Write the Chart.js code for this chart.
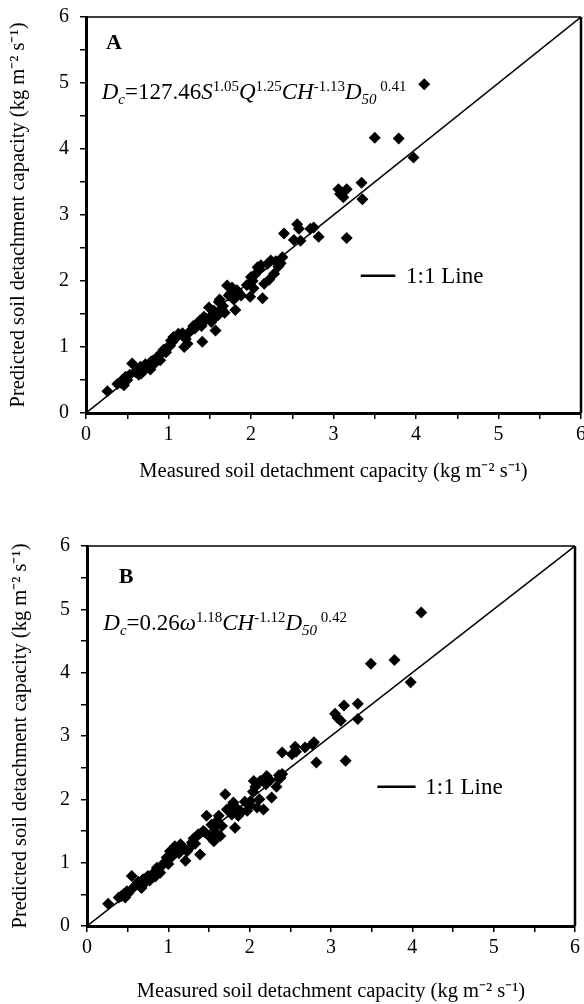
<!DOCTYPE html>
<html lang="en">
<head>
<meta charset="UTF-8">
<script src="https://cdn.jsdelivr.net/npm/chart.js"></script>
<title>Measured vs predicted soil detachment capacity</title>
<style>
  body { margin: 0; background: #fff; }
  canvas { display: block; }
</style>
</head>
<body>
<canvas id="chartA" width="584" height="500"></canvas>
<canvas id="chartB" width="584" height="504"></canvas>
<script>
// --- data ---
const measuredA = [0.26,0.38,0.44,0.48,0.56,0.62,0.67,0.73,0.79,0.85,0.91,0.99,1.03,1.06,1.19,1.23,1.17,1.27,1.35,1.41,
  1.43,1.49,1.57,1.57,1.61,1.65,1.71,1.75,1.81,1.83,2.00,1.99,2.03,2.08,2.14,2.16,2.24,2.28,2.36,
  4.10,3.50,3.79,3.97,3.34,3.06,3.16,3.08,3.12,3.35,3.16,2.82,2.76,2.56,2.58,2.40,2.52,2.60,2.72,2.38,
  0.42,0.46,0.50,0.53,0.60,0.64,0.66,0.70,0.72,0.76,0.78,0.82,0.84,0.88,0.90,0.94,0.97,1.02,1.05,1.09,
  1.12,1.21,1.25,1.30,1.32,1.38,1.40,1.46,1.50,1.52,1.55,1.60,1.62,1.66,1.68,1.73,1.77,1.79,1.85,1.88,
  1.95,2.02,2.05,2.10,2.12,2.20,2.22,2.30,2.33];
const predictedA = [0.33,0.44,0.50,0.55,0.75,0.65,0.60,0.70,0.78,0.83,0.91,1.00,1.10,1.15,1.00,1.05,1.21,1.25,1.36,1.08,
  1.46,1.60,1.46,1.25,1.68,1.56,1.93,1.81,1.56,1.86,2.06,1.76,1.89,2.21,1.74,1.96,2.31,2.11,2.27,
  4.98,4.17,4.16,3.87,3.49,3.39,3.39,3.32,3.27,3.24,2.65,2.67,2.81,2.86,2.79,2.72,2.62,2.61,2.79,2.36,
  0.46,0.42,0.50,0.58,0.62,0.58,0.70,0.64,0.74,0.72,0.66,0.80,0.76,0.86,0.80,0.96,0.92,1.02,1.08,1.14,
  1.20,1.12,1.22,1.32,1.28,1.40,1.32,1.42,1.45,1.38,1.55,1.48,1.72,1.62,1.52,1.78,1.90,1.72,1.82,1.78,
  1.94,2.00,2.10,2.18,2.24,2.26,2.02,2.30,2.22];

const measuredB = [0.26,0.39,0.45,0.49,0.55,0.61,0.67,0.69,0.75,0.82,0.86,0.92,0.98,1.02,1.08,1.15,1.21,1.23,1.29,1.35,
  1.39,1.43,1.47,1.56,1.58,1.62,1.64,1.70,1.76,1.80,1.82,1.86,1.97,2.01,2.05,2.09,2.17,2.21,2.27,2.36,2.40,
  4.11,3.49,3.78,3.98,3.16,3.33,3.05,3.08,3.12,3.33,3.18,2.82,2.77,2.79,2.56,2.57,2.40,2.52,2.68,2.13,2.38,
  0.42,0.47,0.51,0.58,0.63,0.65,0.71,0.73,0.77,0.80,0.84,0.88,0.90,0.95,1.00,1.05,1.10,1.13,1.18,1.25,
  1.31,1.33,1.37,1.45,1.50,1.53,1.58,1.60,1.66,1.72,1.78,1.84,1.90,1.94,2.00,2.04,2.07,2.12,2.20,2.25,
  2.33,2.36];
const predictedB = [0.35,0.45,0.50,0.55,0.79,0.66,0.60,0.74,0.79,0.84,0.92,0.95,1.08,1.18,1.26,1.29,1.03,1.18,1.32,1.42,
  1.13,1.50,1.74,1.34,1.58,1.74,1.42,2.08,1.87,1.95,1.55,1.74,1.82,1.97,2.29,1.87,1.84,2.37,2.03,2.32,2.40,
  4.95,4.14,4.20,3.85,3.48,3.51,3.35,3.29,3.24,3.27,2.61,2.58,2.87,2.90,2.83,2.75,2.74,2.71,2.82,2.29,2.34,
  0.47,0.45,0.52,0.62,0.70,0.64,0.68,0.76,0.72,0.80,0.78,0.88,0.84,1.00,0.98,1.10,1.20,1.15,1.24,1.22,
  1.38,1.30,1.45,1.48,1.42,1.60,1.48,1.66,1.58,1.84,1.76,1.86,1.80,1.96,1.90,2.12,2.20,2.00,2.24,2.30,
  2.20,2.38];

const lineX = [0, 6];   // 1:1 line ends
const lineY = [0, 6];
const axisMin = 0;
const axisMax = 6;

const xTitle = 'Measured soil detachment capacity (kg m\u207B\u00B2 s\u207B\u00B9)';
const yTitle = 'Predicted soil detachment capacity (kg m\u207B\u00B2 s\u207B\u00B9)';
const legendText = '1:1 Line';

// equation pieces: [text, italic?, position]
const equationA = [['D',1,'base'],['c',1,'sub'],['=127.46',0,'base'],['S',1,'base'],['1.05',0,'sup'],
  ['Q',1,'base'],['1.25',0,'sup'],['CH',1,'base'],['-1.13',0,'sup'],['D',1,'base'],['50',1,'sub'],[' 0.41',0,'sup']];
const equationB = [['D',1,'base'],['c',1,'sub'],['=0.26',0,'base'],['\u03C9',1,'base'],['1.18',0,'sup'],
  ['CH',1,'base'],['-1.12',0,'sup'],['D',1,'base'],['50',1,'sub'],[' 0.42',0,'sup']];

const FONT = '"Liberation Serif", "Times New Roman", serif';

// frame, panel letter, equation and legend
const extras = {
  id: 'extras',
  afterDatasetsDraw(chart, args, o) {
    const {ctx, chartArea: a, scales: {x, y}} = chart;
    ctx.save();
    ctx.strokeStyle = '#000';
    ctx.lineWidth = 1.5;
    ctx.beginPath(); ctx.moveTo(a.left, a.top); ctx.lineTo(a.right, a.top); ctx.stroke();
    ctx.lineWidth = 2.5;
    ctx.beginPath(); ctx.moveTo(a.right, a.top); ctx.lineTo(a.right, a.bottom); ctx.stroke();

    ctx.fillStyle = '#000';
    ctx.font = 'bold 22px ' + FONT;
    ctx.textAlign = 'center';
    ctx.textBaseline = 'middle';
    ctx.fillText(o.letter, x.getPixelForValue(o.letterAt[0]), y.getPixelForValue(o.letterAt[1]));

    ctx.textAlign = 'left';
    ctx.textBaseline = 'alphabetic';
    let px = x.getPixelForValue(o.eqAt[0]);
    const base = y.getPixelForValue(o.eqAt[1]) + 7;
    o.equation.forEach(([t, it, pos]) => {
      const size = pos === 'base' ? 23 : 15;
      ctx.font = (it ? 'italic ' : '') + size + 'px ' + FONT;
      const dy = pos === 'sup' ? -8 : pos === 'sub' ? 5 : 0;
      ctx.fillText(t, px, base + dy);
      px += ctx.measureText(t).width;
    });

    const ly = y.getPixelForValue(o.legendAt[2]);
    ctx.lineWidth = 2.5;
    ctx.beginPath();
    ctx.moveTo(x.getPixelForValue(o.legendAt[0]), ly);
    ctx.lineTo(x.getPixelForValue(o.legendAt[1]), ly);
    ctx.stroke();
    ctx.font = '23px ' + FONT;
    ctx.textBaseline = 'middle';
    ctx.fillText(legendText, x.getPixelForValue(o.legendAt[3]), ly + 1);
    ctx.restore();
  }
};

function makeChart(id, xs, ys, cfg) {
  const points = xs.map((v, i) => ({x: v, y: ys[i]}));
  const line = lineX.map((v, i) => ({x: v, y: lineY[i]}));
  const tickFont = {family: FONT, size: 20};
  const tickCb = v => Number.isInteger(v) ? v : '';
  const grid = {drawOnChartArea: false, drawTicks: true, tickLength: 6, color: '#000', lineWidth: 1.5};
  return new Chart(document.getElementById(id), {
    type: 'scatter',
    data: {
      datasets: [{
        data: points,
        pointStyle: 'rectRot',
        pointRadius: 6,
        backgroundColor: '#000',
        borderWidth: 0
      }, {
        type: 'line',
        data: line,
        borderColor: '#000',
        borderWidth: 1.5,
        pointRadius: 0,
        fill: false
      }]
    },
    options: {
      responsive: false,
      animation: false,
      layout: {autoPadding: false, padding: cfg.padding},
      scales: {
        x: {
          type: 'linear', min: axisMin, max: axisMax,
          border: {color: '#000', width: 3},
          grid: grid,
          ticks: {stepSize: 0.5, autoSkip: false, maxRotation: 0, padding: 4, color: '#000', font: tickFont, callback: tickCb},
          title: {display: true, text: xTitle, color: '#000', font: {family: FONT, size: 20.5}, padding: {top: 0, bottom: cfg.xTitlePad}},
          afterFit: s => { s.height = cfg.xHeight; s.paddingLeft = 0; s.paddingRight = 0; }
        },
        y: {
          type: 'linear', min: axisMin, max: axisMax,
          border: {color: '#000', width: 3},
          grid: grid,
          ticks: {stepSize: 0.5, autoSkip: false, padding: 11, color: '#000', font: tickFont, callback: tickCb},
          title: {display: true, text: yTitle, color: '#000', font: {family: FONT, size: 20.5}, padding: {top: cfg.yTitlePad, bottom: 0}},
          afterFit: s => { s.width = cfg.yWidth; s.paddingTop = 0; s.paddingBottom = 0; }
        }
      },
      plugins: {
        legend: {display: false},
        tooltip: {enabled: false},
        extras: cfg.extras
      }
    },
    plugins: [extras]
  });
}

makeChart('chartA', measuredA, predictedA, {
  padding: {left: 0, right: 3, top: 17, bottom: 7},
  xHeight: 80, yWidth: 86, xTitlePad: 9, yTitlePad: 6,
  extras: {letter: 'A', letterAt: [0.34, 5.6], equation: equationA, eqAt: [0.19, 4.86], legendAt: [3.33, 3.75, 2.08, 3.88]}
});

makeChart('chartB', measuredB, predictedB, {
  padding: {left: 0, right: 9, top: 46, bottom: 0},
  xHeight: 78, yWidth: 87, xTitlePad: 0, yTitlePad: 8,
  extras: {letter: 'B', letterAt: [0.48, 5.5], equation: equationB, eqAt: [0.2, 4.79], legendAt: [3.57, 4.04, 2.2, 4.16]}
});
</script>
</body>
</html>
